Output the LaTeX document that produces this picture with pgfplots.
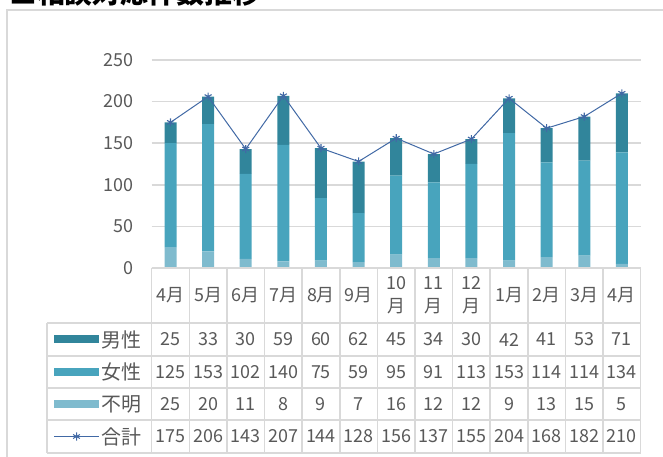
\documentclass[border=0pt]{standalone}
\usepackage{fontspec}
\setmainfont{Noto Sans CJK JP}
\usepackage{pgfplots}
\pgfplotsset{compat=1.18}
\usepackage{pgfplotstable}
\definecolor{cmale}{RGB}{49,133,155}
\definecolor{cfemale}{RGB}{72,164,189}
\definecolor{cunk}{RGB}{127,187,206}
\definecolor{cline}{RGB}{65,105,165}
\definecolor{gridc}{RGB}{217,217,217}
\definecolor{txt}{RGB}{89,89,89}
\pgfplotstableread{
idx male female unk total
0 25 125 25 175
1 33 153 20 206
2 30 102 11 143
3 59 140 8 207
4 60 75 9 144
5 62 59 7 128
6 45 95 16 156
7 34 91 12 137
8 30 113 12 155
9 42 153 9 204
10 41 114 13 168
11 53 114 15 182
12 71 134 5 210
}\datatable
\newcommand{\tf}{\fontsize{18}{23}\selectfont}
\newcommand{\lf}{\fontsize{20}{23}\selectfont}
\begin{document}
\begin{tikzpicture}
\clip (0,0) rectangle (663bp,457bp);
\begin{scope}[x=1bp,y=1bp]
% chart frame
\draw[gridc, line width=1.5bp] (7,447) rectangle (680,-20);
% title (cut off at the top)
\node[anchor=base west, inner sep=0, font=\bfseries\fontsize{28}{30}\selectfont] at (9,453.5) {■相談対応件数推移};
\end{scope}
\begin{axis}[
  at={(151.7bp,189bp)}, anchor=south west,
  scale only axis, width=489bp, height=208bp,
  xmin=-0.5, xmax=12.5, ymin=0, ymax=250,
  ytick={0,50,...,250}, xtick=\empty,
  ymajorgrids, grid style={gridc, line width=1.5bp},
  axis line style={draw=none},
  major tick length=0pt,
  /pgf/number format/assume math mode=true,
  yticklabel style={font=\tf, text=txt, inner sep=0pt, anchor=east, xshift=-18.5bp},
  ybar stacked, bar width=12bp,
]
\addplot[fill=cunk, draw=none] table[x=idx, y=unk] {\datatable};
\addplot[fill=cfemale, draw=none] table[x=idx, y=female] {\datatable};
\addplot[fill=cmale, draw=none] table[x=idx, y=male] {\datatable};
\end{axis}
\begin{axis}[
  at={(151.7bp,189bp)}, anchor=south west,
  scale only axis, width=489bp, height=208bp,
  xmin=-0.5, xmax=12.5, ymin=0, ymax=250,
  hide axis, clip=false,
]
\addplot[cline, line width=1bp, mark=asterisk, mark size=4bp, mark options={line width=1.1bp}] table[x=idx, y=total] {\datatable};
\end{axis}
\begin{scope}[x=1bp,y=1bp]
% data table grid
\foreach \yy in {323,356,388,420,453} {
  \draw[gridc, line width=1.5bp] (47,457-\yy) -- (640.7,457-\yy);
}
\draw[gridc, line width=1.5bp] (151.7,189) -- (640.7,189);
\foreach \k in {0,...,13} {
  \draw[gridc, line width=1.5bp] (151.7+\k*37.615,189) -- (151.7+\k*37.615,4);
}
\draw[gridc, line width=1.5bp] (47,134) -- (47,4);
% header
\foreach \m [count=\c from 0] in {4月,5月,6月,7月,8月,9月,{10\\月},{11\\月},{12\\月},1月,2月,3月,4月} {
  \node[font=\tf, text=txt, align=center, inner sep=0] at (151.7+37.615*\c+18.8,161.5) {\m};
}
% values
\foreach \i in {0,...,12} {
  \pgfplotstablegetelem{\i}{male}\of\datatable
  \node[font=\tf, text=txt, inner sep=0] at (151.7+37.615*\i+18.8,117.5) {\pgfplotsretval};
  \pgfplotstablegetelem{\i}{female}\of\datatable
  \node[font=\tf, text=txt, inner sep=0] at (151.7+37.615*\i+18.8,85) {\pgfplotsretval};
  \pgfplotstablegetelem{\i}{unk}\of\datatable
  \node[font=\tf, text=txt, inner sep=0] at (151.7+37.615*\i+18.8,53) {\pgfplotsretval};
  \pgfplotstablegetelem{\i}{total}\of\datatable
  \node[font=\tf, text=txt, inner sep=0] at (151.7+37.615*\i+18.8,20.5) {\pgfplotsretval};
}
% legend keys
\fill[cmale] (54,113.5) rectangle (99,121.5);
\node[font=\lf, text=txt, anchor=west, inner sep=0] at (101.5,117.5) {男性};
\fill[cfemale] (54,81) rectangle (99,89);
\node[font=\lf, text=txt, anchor=west, inner sep=0] at (101.5,85) {女性};
\fill[cunk] (54,49) rectangle (99,57);
\node[font=\lf, text=txt, anchor=west, inner sep=0] at (101.5,53) {不明};
\draw[cline, line width=1bp] (54,20.5) -- (99,20.5);
\draw[cline, line width=1bp] plot[mark=asterisk, mark size=4bp] coordinates {(76.5,20.5)};
\node[font=\lf, text=txt, anchor=west, inner sep=0] at (101.5,20.5) {合計};
\end{scope}
\end{tikzpicture}
\end{document}
